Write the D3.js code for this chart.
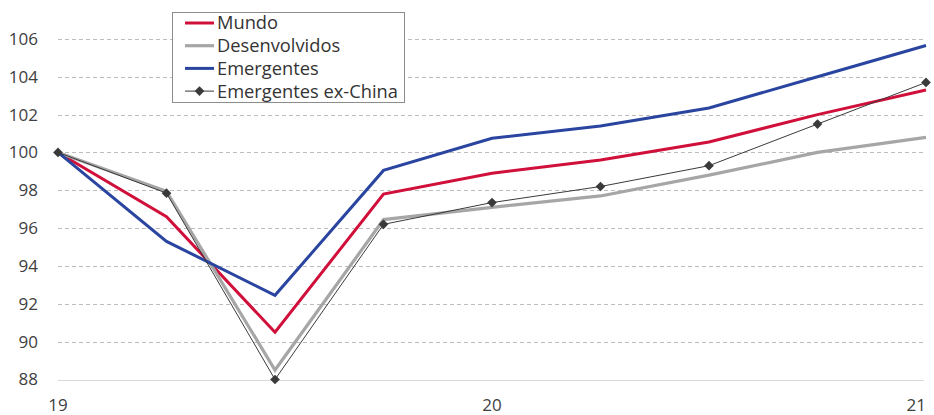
<!DOCTYPE html>
<html>
<head>
<meta charset="utf-8">
<script src="https://cdn.jsdelivr.net/npm/d3@7"></script>
<style>
  body { margin: 0; background: #fff; }
  svg { display: block; font-family: "Open Sans", "Noto Sans", sans-serif; }
</style>
</head>
<body>
<svg id="chart" width="934" height="415"></svg>
<script>
// Quarterly index, 2019Q4 = 100
const quarters = [0, 1, 2, 3, 4, 5, 6, 7, 8];
const mundo = [100, 96.6, 90.5, 97.8, 98.9, 99.6, 100.55, 102.0, 103.3];
const desenvolvidos = [100, 97.95, 88.5, 96.45, 97.1, 97.7, 98.8, 100.0, 100.8];
const emergentes = [100, 95.3, 92.45, 99.05, 100.75, 101.4, 102.35, 104.0, 105.65];
const exChina = [100, 97.85, 88.0, 96.2, 97.35, 98.2, 99.3, 101.5, 103.7];
const yTicks = [88, 90, 92, 94, 96, 98, 100, 102, 104, 106];
const xTicks = [{ q: 0, label: '19' }, { q: 4, label: '20' }, { q: 8, label: '21' }];

const series = [
    { name: 'Mundo', values: mundo, color: '#d0103a', width: 3 },
    { name: 'Desenvolvidos', values: desenvolvidos, color: '#a6a6a6', width: 3.2 },
    { name: 'Emergentes', values: emergentes, color: '#2a45a0', width: 3 },
    { name: 'Emergentes ex-China', values: exChina, color: '#3a3a3a', width: 1, marker: true },
];

const svg = d3.select('#chart');
const plotLeft = 58, plotRight = 926, plotTop = 20, plotBottom = 379.5;

const x = d3.scaleLinear().domain([0, 8]).range([plotLeft, plotRight]);
const y = d3.scaleLinear().domain([88, 107]).range([plotBottom, plotTop]);

// Gridlines
svg.append('g')
    .selectAll('line')
    .data(yTicks.filter(t => t !== 88))
    .join('line')
    .attr('x1', plotLeft)
    .attr('x2', 924)
    .attr('y1', d => Math.round(y(d)) + 0.5)
    .attr('y2', d => Math.round(y(d)) + 0.5)
    .attr('stroke', '#bdbdbd')
    .attr('stroke-width', 1)
    .attr('stroke-dasharray', '4,3');

// Base line
svg.append('line')
    .attr('x1', plotLeft).attr('x2', 924)
    .attr('y1', Math.round(y(88)) + 0.5).attr('y2', Math.round(y(88)) + 0.5)
    .attr('stroke', '#d9d9d9')
    .attr('stroke-width', 1);

// Y axis labels
svg.append('g')
    .selectAll('text')
    .data(yTicks)
    .join('text')
    .attr('x', 38)
    .attr('y', d => y(d))
    .attr('dy', '0.35em')
    .attr('text-anchor', 'end')
    .attr('font-size', 17)
    .attr('fill', '#404040')
    .text(d => d);

// X axis labels (last one kept inside the frame)
svg.append('g')
    .selectAll('text')
    .data(xTicks)
    .join('text')
    .attr('x', d => Math.min(x(d.q), 933))
    .attr('y', 411)
    .attr('text-anchor', d => x(d.q) + 10 > 934 ? 'end' : 'middle')
    .attr('font-size', 17)
    .attr('fill', '#404040')
    .text(d => d.label);

const line = d3.line()
    .x((d, i) => x(quarters[i]))
    .y(d => y(d));

series.forEach(s => {
    svg.append('path')
        .datum(s.values)
        .attr('fill', 'none')
        .attr('stroke', s.color)
        .attr('stroke-width', s.width)
        .attr('stroke-linejoin', 'miter')
        .attr('d', line);
});

// Diamond markers
const diamond = d3.symbol().type(d3.symbolDiamond2).size(60);
svg.append('g')
    .selectAll('path')
    .data(exChina)
    .join('path')
    .attr('transform', (d, i) => `translate(${x(quarters[i])},${y(d)})`)
    .attr('d', diamond)
    .attr('fill', '#3a3a3a');

// Legend
const lg = svg.append('g');
lg.append('rect')
    .attr('x', 172.5).attr('y', 12.5)
    .attr('width', 232).attr('height', 90)
    .attr('fill', '#fff')
    .attr('stroke', '#8c8c8c')
    .attr('stroke-width', 1);

series.forEach((s, i) => {
    const cy = 23 + i * 22.7;
    lg.append('line')
        .attr('x1', 185).attr('x2', 214)
        .attr('y1', cy).attr('y2', cy)
        .attr('stroke', s.color)
        .attr('stroke-width', s.width);
    if (s.marker) {
        lg.append('path')
            .attr('transform', `translate(199.5,${cy})`)
            .attr('d', diamond)
            .attr('fill', s.color);
    }
    lg.append('text')
        .attr('x', 217)
        .attr('y', cy)
        .attr('dy', '0.35em')
        .attr('font-size', 18.3)
        .attr('fill', '#333')
        .text(s.name);
});
</script>
</body>
</html>
